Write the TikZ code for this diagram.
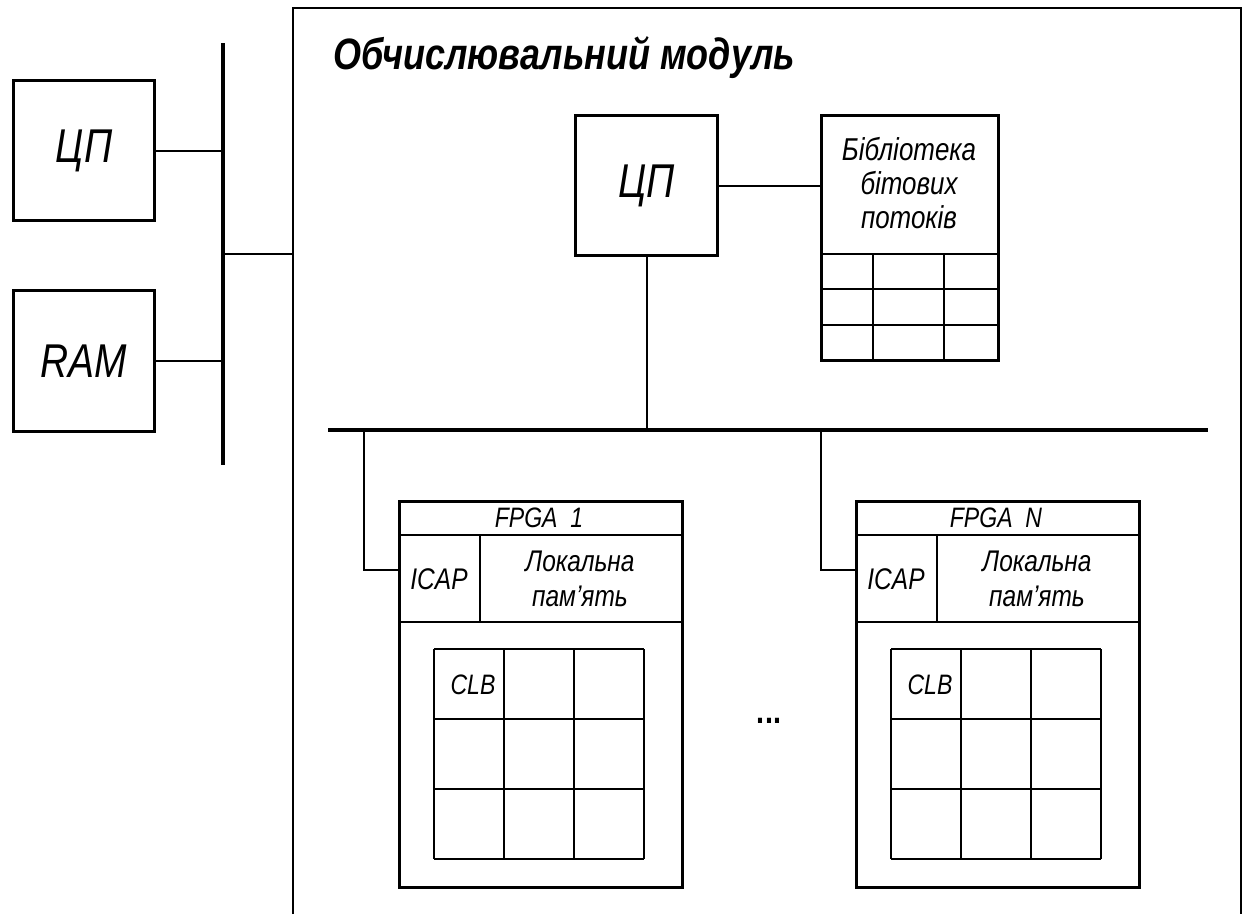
\documentclass[tikz,border=0pt]{standalone}
\usepackage{fontspec}
\setmainfont{Liberation Sans}
\newfontfamily\diafont[FakeStretch=0.82]{Liberation Sans}
\usetikzlibrary{positioning, calc}

\tikzset{
  blk/.style={draw, line width=1.8pt, inner sep=0pt, anchor=north west,
    font=\diafont\itshape\fontsize{27}{32}\selectfont},
  lbl/.style={inner sep=0pt, font=\diafont\itshape\fontsize{16}{19}\selectfont},
  memlbl/.style={inner sep=0pt, align=center, font=\diafont\itshape\fontsize{17}{19.8}\selectfont},
  link/.style={line width=1.2pt},
  bus/.style={line width=1.8pt},
  cell/.style={line width=0.9pt},
}

\begin{document}
\begin{tikzpicture}[x=0.02cm, y=-0.02cm]
        \useasboundingbox (0,0) rectangle (1248,914);
        % host side
        \node[blk, minimum width=2.82cm, minimum height=2.8cm] (cpuL) at (12,79) {ЦП};
        \node[blk, minimum width=2.82cm, minimum height=2.82cm] (ramL) at (12,289) {RAM};
        \coordinate (busT) at (223,43);
        \coordinate (busB) at (223,465);
        \draw[bus] (busT) -- (busB);
        \draw[link] (cpuL.east) -- (cpuL.east -| busT);
        \draw[link] (ramL.east) -- (ramL.east -| busT);
        % module frame
        \coordinate (modIn) at (293,254);
        \draw[link] (293,914) -- (293,8) -- (1241,8) -- (1241,914);
        \draw[link] (modIn -| busT) -- (modIn);
        \node[anchor=base west, inner sep=0pt, font=\diafont\bfseries\itshape\fontsize{25}{29}\selectfont] (title) at (333,69) {Обчислювальний модуль};
        % CPU and bitstream library
        \node[blk, minimum width=2.84cm, minimum height=2.8cm] (cpuM) at (574,114) {ЦП};
        \node[blk, minimum width=3.54cm, minimum height=4.9cm] (lib) at (820,114) {};
        \node[inner sep=0pt, align=center, font=\diafont\itshape\fontsize{18}{19.5}\selectfont] (libtxt) at (909,183) {Бібліотека\\бітових\\потоків};
        \draw[cell] (820,254) -- (997,254);
        \draw[cell] (820,289) -- (997,289);
        \draw[cell] (820,325) -- (997,325);
        \draw[cell] (873,254) -- (873,359);
        \draw[cell] (944,254) -- (944,359);
        \draw[link] (cpuM.east) -- (lib.west |- cpuM.east);
        % local bus
        \coordinate (busML) at (328,430);
        \coordinate (busMR) at (1208,430);
        \draw[bus] (busML) -- (busMR);
        \draw[link] (cpuM.south) -- (cpuM.south |- busML);
        % FPGA boards
        \foreach \n/\x/\t in {1/398/364, N/855/821}{
          \node[blk, minimum width=5.66cm, minimum height=7.72cm] (fpga\n) at (\x,500) {};
          \draw[link] (\x,535) -- ++(283,0);
          \draw[link] (\x,622) -- ++(283,0);
          \draw[link] (\x+82,535) -- (\x+82,622);
          \node[lbl] (name\n) at (\x+141,518) {FPGA\ \ \n};
          \node[lbl, font=\diafont\itshape\fontsize{17}{19}\selectfont] (icap\n) at (\x+41,579) {ICAP};
          \node[memlbl] (mem\n) at (\x+182,579) {Локальна\\пам’ять};
          \foreach \k in {0,1,2,3}{
            \draw[cell] (\x+36+70*\k,649) -- ++(0,210);
            \draw[cell] (\x+36,649+70*\k) -- ++(210,0);
          }
          \node[lbl] (clb\n) at (\x+75,685) {CLB};
          \coordinate (tap\n) at (\t,430);
          \coordinate (in\n) at (\x,570);
          \draw[link] (tap\n) |- (in\n);
        }
        \node[font=\diafont\bfseries\fontsize{20}{24}\selectfont] (dots) at (769,721) {...};
      \end{tikzpicture}
\end{document}
